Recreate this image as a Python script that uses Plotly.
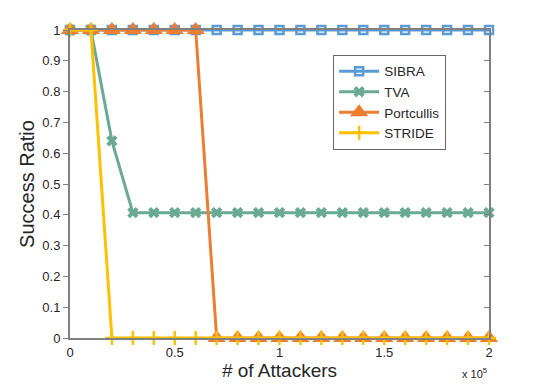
import plotly.graph_objects as go

# x in units of 10^5 attackers
attackers = [0, 0.1, 0.2, 0.3, 0.4, 0.5, 0.6, 0.7, 0.8, 0.9, 1.0,
             1.1, 1.2, 1.3, 1.4, 1.5, 1.6, 1.7, 1.8, 1.9, 2.0]
sibra = [1] * 21
tva = [1, 1, 0.64] + [0.407] * 18
portcullis = [1, 1, 1, 1, 1, 1, 1] + [0] * 14
stride = [1, 1] + [0] * 19

y_ticks = [0, 0.1, 0.2, 0.3, 0.4, 0.5, 0.6, 0.7, 0.8, 0.9, 1]
y_labels = ["0", "0.1", "0.2", "0.3", "0.4", "0.5", "0.6", "0.7", "0.8", "0.9", "1"]
x_ticks = [0, 0.5, 1, 1.5, 2]
x_labels = ["0", "0.5", "1", "1.5", "2"]

AX = "#808080"
TXT = "#262626"
FONT = "Liberation Sans, Arial, sans-serif"

fig = go.Figure()
fig.add_trace(go.Scatter(
    x=attackers, y=sibra, name="SIBRA", mode="lines+markers", cliponaxis=False,
    line=dict(color="#5B9BD5", width=3),
    marker=dict(symbol="square-open", size=8, color="#5B9BD5", line=dict(width=2.5, color="#5B9BD5"))))
fig.add_trace(go.Scatter(
    x=attackers, y=tva, name="TVA", mode="lines+markers", cliponaxis=False,
    line=dict(color="#6AAA92", width=3),
    marker=dict(symbol="x", size=10, color="#6AAA92")))
fig.add_trace(go.Scatter(
    x=attackers, y=portcullis, name="Portcullis", mode="lines+markers", cliponaxis=False,
    line=dict(color="#ED7D31", width=3),
    marker=dict(symbol="triangle-up", size=16, color="#ED7D31")))
fig.add_trace(go.Scatter(
    x=attackers, y=stride, name="STRIDE", mode="lines+markers", cliponaxis=False,
    line=dict(color="#FFC000", width=3),
    marker=dict(symbol="cross-thin", size=10, color="#FFC000", line=dict(width=2.5, color="#FFC000"))))
fig.add_trace(go.Scatter(x=[], y=[], yaxis="y2", showlegend=False, hoverinfo="skip"))

fig.update_layout(
    width=540, height=386,
    margin=dict(l=70, r=51, t=30, b=48, autoexpand=False),
    paper_bgcolor="white", plot_bgcolor="white",
    font=dict(family=FONT, color=TXT, size=13),
    showlegend=True,
    legend=dict(x=0.628, y=0.919, xanchor="left", yanchor="top",
                bgcolor="white", bordercolor="#666666", borderwidth=1,
                font=dict(size=13.5, color=TXT), tracegroupgap=0,
                itemwidth=40),
    xaxis=dict(range=[0, 2], tickvals=x_ticks, ticktext=x_labels, automargin=False,
               showgrid=False, zeroline=False, showline=True, linecolor=AX,
               linewidth=2, mirror=True, ticks="", ticklabelstandoff=1,
               tickfont=dict(size=13, color=TXT),
               title=dict(text="# of Attackers", font=dict(size=19, color=TXT), standoff=2)),
    yaxis=dict(range=[0, 1], tickvals=y_ticks, ticktext=y_labels, automargin=False,
               showgrid=False, zeroline=False, showline=True, linecolor=AX,
               linewidth=2, ticks="outside", ticklen=5, tickcolor=AX, tickwidth=1,
               tickfont=dict(size=13, color=TXT),
               title=dict(text="Success Ratio", font=dict(size=20, color=TXT), standoff=2)),
    yaxis2=dict(range=[0, 1], overlaying="y", side="right", tickvals=y_ticks, automargin=False,
                showticklabels=False, showgrid=False, zeroline=False,
                showline=True, linecolor=AX, linewidth=2,
                ticks="inside", ticklen=5, tickcolor=AX, tickwidth=1),
    annotations=[dict(text="x 10<sup>5</sup>", xref="paper", yref="paper",
                      x=1.0, y=-0.085, xanchor="right", yanchor="top",
                      showarrow=False, font=dict(size=11, color=TXT))],
)

fig.write_html("out.html", config={"displayModeBar": False},
               post_script="document.body.style.margin='0';document.body.style.overflow='hidden';")
